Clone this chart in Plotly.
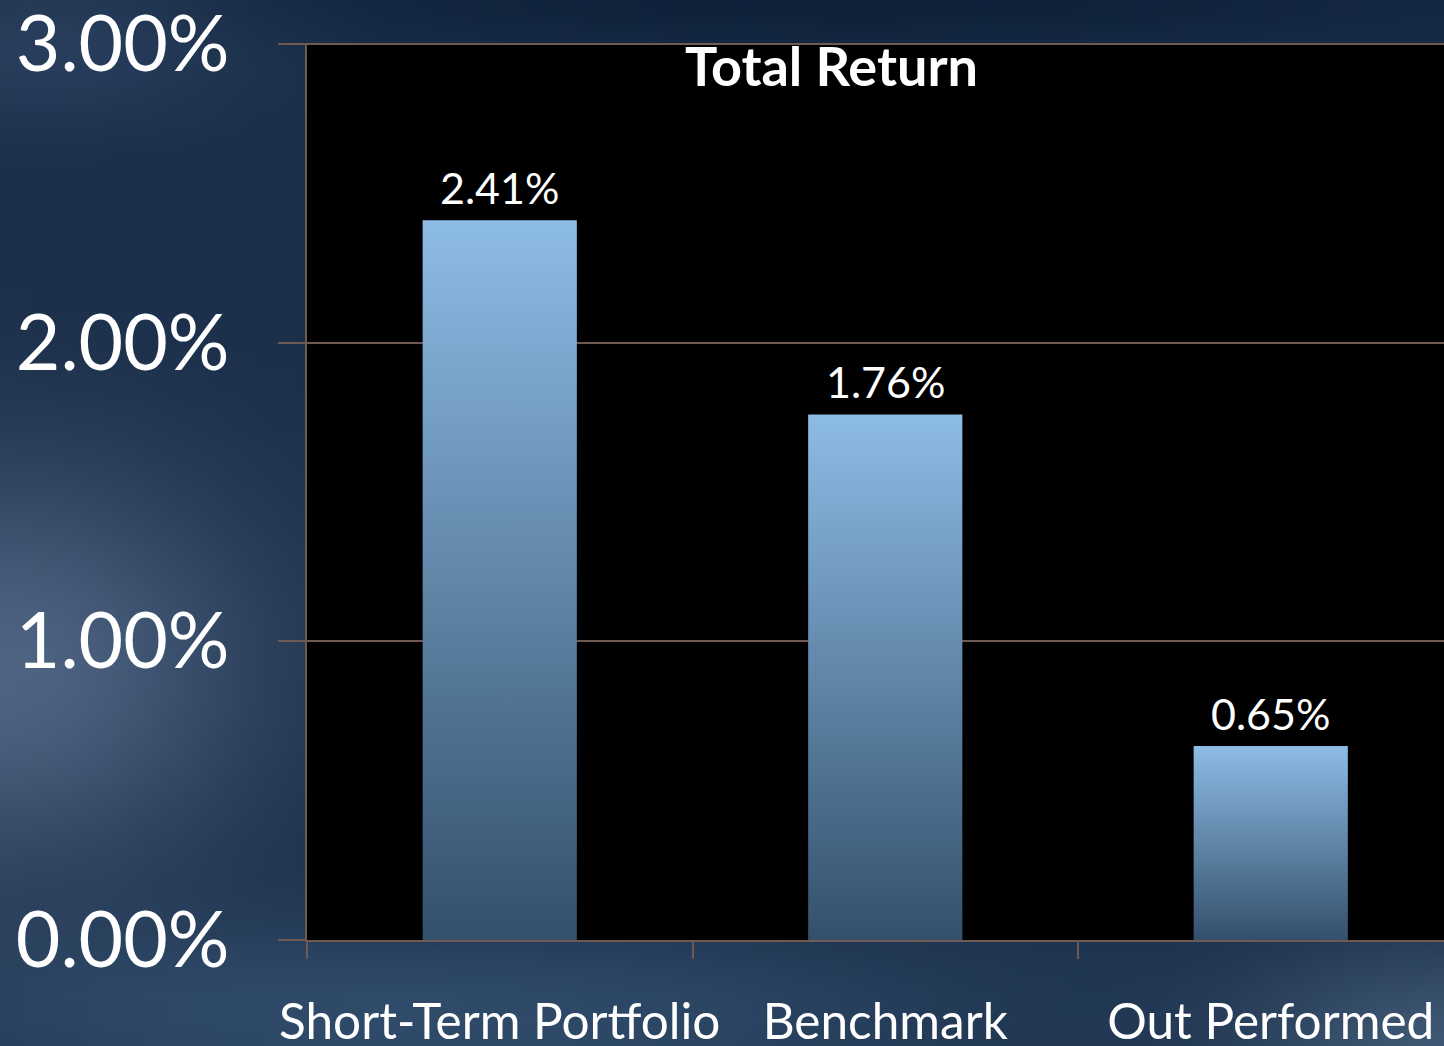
import base64
import struct
import zlib

import numpy as np
import plotly.graph_objects as go

# ---------------- data ----------------
categories = ["Short-Term Portfolio", "Benchmark", "Out Performed"]
returns_pct = [2.41, 1.76, 0.65]
y_ticks = [0, 1, 2, 3]
title_text = "Total Return"

# ---------------- layout constants ----------------
W, H = 1444, 1046
ML, MR, MT, MB = 307, 0, 43, 106
PW, PH = W - ML - MR, H - MT - MB
FONT = "Lato"
GRID = "#6e5a53"
BAR_W = 0.40
Y_MAX = 3.004


# ---------------- decorative background (cloudy navy) ----------------
def make_background():
    gw, gh = 72, 52
    yy, xx = np.mgrid[0:gh, 0:gw]
    u = (xx + 0.5) / gw
    v = (yy + 0.5) / gh
    base = np.array([27, 47, 74], float)
    img = np.zeros((gh, gw, 3)) + base

    def blob(cx, cy, rx, ry, col, s=1.0):
        w = s * np.exp(-(((u - cx) / rx) ** 2 + ((v - cy) / ry) ** 2))
        return w[..., None] * (np.array(col, float) - base)

    img += blob(0.0, 0.64, 0.18, 0.2, (78, 100, 130))
    img += blob(0.03, 0.04, 0.14, 0.08, (42, 64, 94))
    img += blob(0.3, 0.97, 0.4, 0.09, (48, 76, 106))
    img += blob(1.0, 1.0, 0.14, 0.10, (62, 86, 114))
    img += blob(0.6, 0.0, 0.45, 0.05, (15, 33, 57))
    img8 = np.clip(img, 0, 255).astype(np.uint8)
    raw = b"".join(b"\x00" + img8[r].tobytes() for r in range(gh))

    def chunk(t, d):
        return struct.pack(">I", len(d)) + t + d + struct.pack(">I", zlib.crc32(t + d) & 0xFFFFFFFF)

    png = (b"\x89PNG\r\n\x1a\n"
           + chunk(b"IHDR", struct.pack(">IIBBBBB", gw, gh, 8, 2, 0, 0, 0))
           + chunk(b"IDAT", zlib.compress(raw))
           + chunk(b"IEND", b""))
    return "data:image/png;base64," + base64.b64encode(png).decode()


fig = go.Figure()

# bars drawn as filled rectangles with a vertical gradient
for i, (cat, val) in enumerate(zip(categories, returns_pct)):
    x0, x1 = i - BAR_W / 2, i + BAR_W / 2
    fig.add_trace(go.Scatter(
        x=[x0, x1, x1, x0, x0],
        y=[0, 0, val, val, 0],
        mode="lines",
        fill="toself",
        line=dict(width=0, color="rgba(0,0,0,0)"),
        fillgradient=dict(type="vertical",
                          colorscale=[[0, "#33506b"], [1, "#8dbce5"]]),
        hoverinfo="skip",
        showlegend=False,
        name=cat,
    ))

# value labels
for i, val in enumerate(returns_pct):
    fig.add_annotation(x=i, y=val, text=f"{val:.2f}%", showarrow=False,
                       xanchor="center", yanchor="bottom", yshift=5,
                       font=dict(family=FONT, size=43, color="white"))

# title inside the plot
fig.add_annotation(x=(831.5 - ML) / PW, y=1, xref="paper", yref="paper",
                   text=f"<b>{title_text}</b>", showarrow=False,
                   xanchor="center", yanchor="top", yshift=12,
                   font=dict(family=FONT, size=54, color="white"))

fig.add_layout_image(dict(
    source=make_background(), xref="paper", yref="paper",
    x=-ML / PW, y=1 + MT / PH, sizex=W / PW, sizey=H / PH,
    xanchor="left", yanchor="top", sizing="stretch", layer="below"))

# black plot area (drawn above the background image)
fig.add_shape(type="rect", xref="x domain", yref="y domain",
              x0=0, x1=1, y0=0, y1=1, fillcolor="black",
              line=dict(width=0), layer="below")

fig.update_layout(
    width=W, height=H,
    margin=dict(l=ML, r=MR, t=MT, b=MB, pad=0, autoexpand=False),
    paper_bgcolor="#1f3552",
    plot_bgcolor="black",
    showlegend=False,
    xaxis=dict(
        automargin=False,
        range=[-0.5, (W - ML) / 385.5 - 0.5],
        tickmode="array", tickvals=list(range(len(categories))),
        ticktext=categories,
        ticks="", showgrid=False, zeroline=False,
        showline=True, linecolor=GRID, linewidth=2,
        tickfont=dict(family=FONT, size=49.5, color="white"),
        ticklabelstandoff=38,
        ticklabeloverflow="allow",
        minor=dict(tickmode="array", tickvals=[-0.5, 0.5, 1.5],
                   ticks="outside", ticklen=17, tickcolor=GRID, tickwidth=2,
                   showgrid=False),
        fixedrange=True,
    ),
    yaxis=dict(
        automargin=False,
        range=[0, Y_MAX],
        tickmode="array", tickvals=y_ticks,
        ticktext=[f"{t:.2f}%" for t in y_ticks],
        ticks="outside", ticklen=27, tickcolor=GRID, tickwidth=2,
        showgrid=True, gridcolor=GRID, gridwidth=2,
        zeroline=False,
        showline=True, linecolor=GRID, linewidth=2,
        tickfont=dict(family=FONT, size=77, color="white"),
        ticklabelstandoff=33,
        ticklabeloverflow="allow",
        fixedrange=True,
    ),
)

fig.write_html("out.html", config={"displayModeBar": False},
               post_script="document.body.style.margin='0';document.body.style.overflow='hidden';")
